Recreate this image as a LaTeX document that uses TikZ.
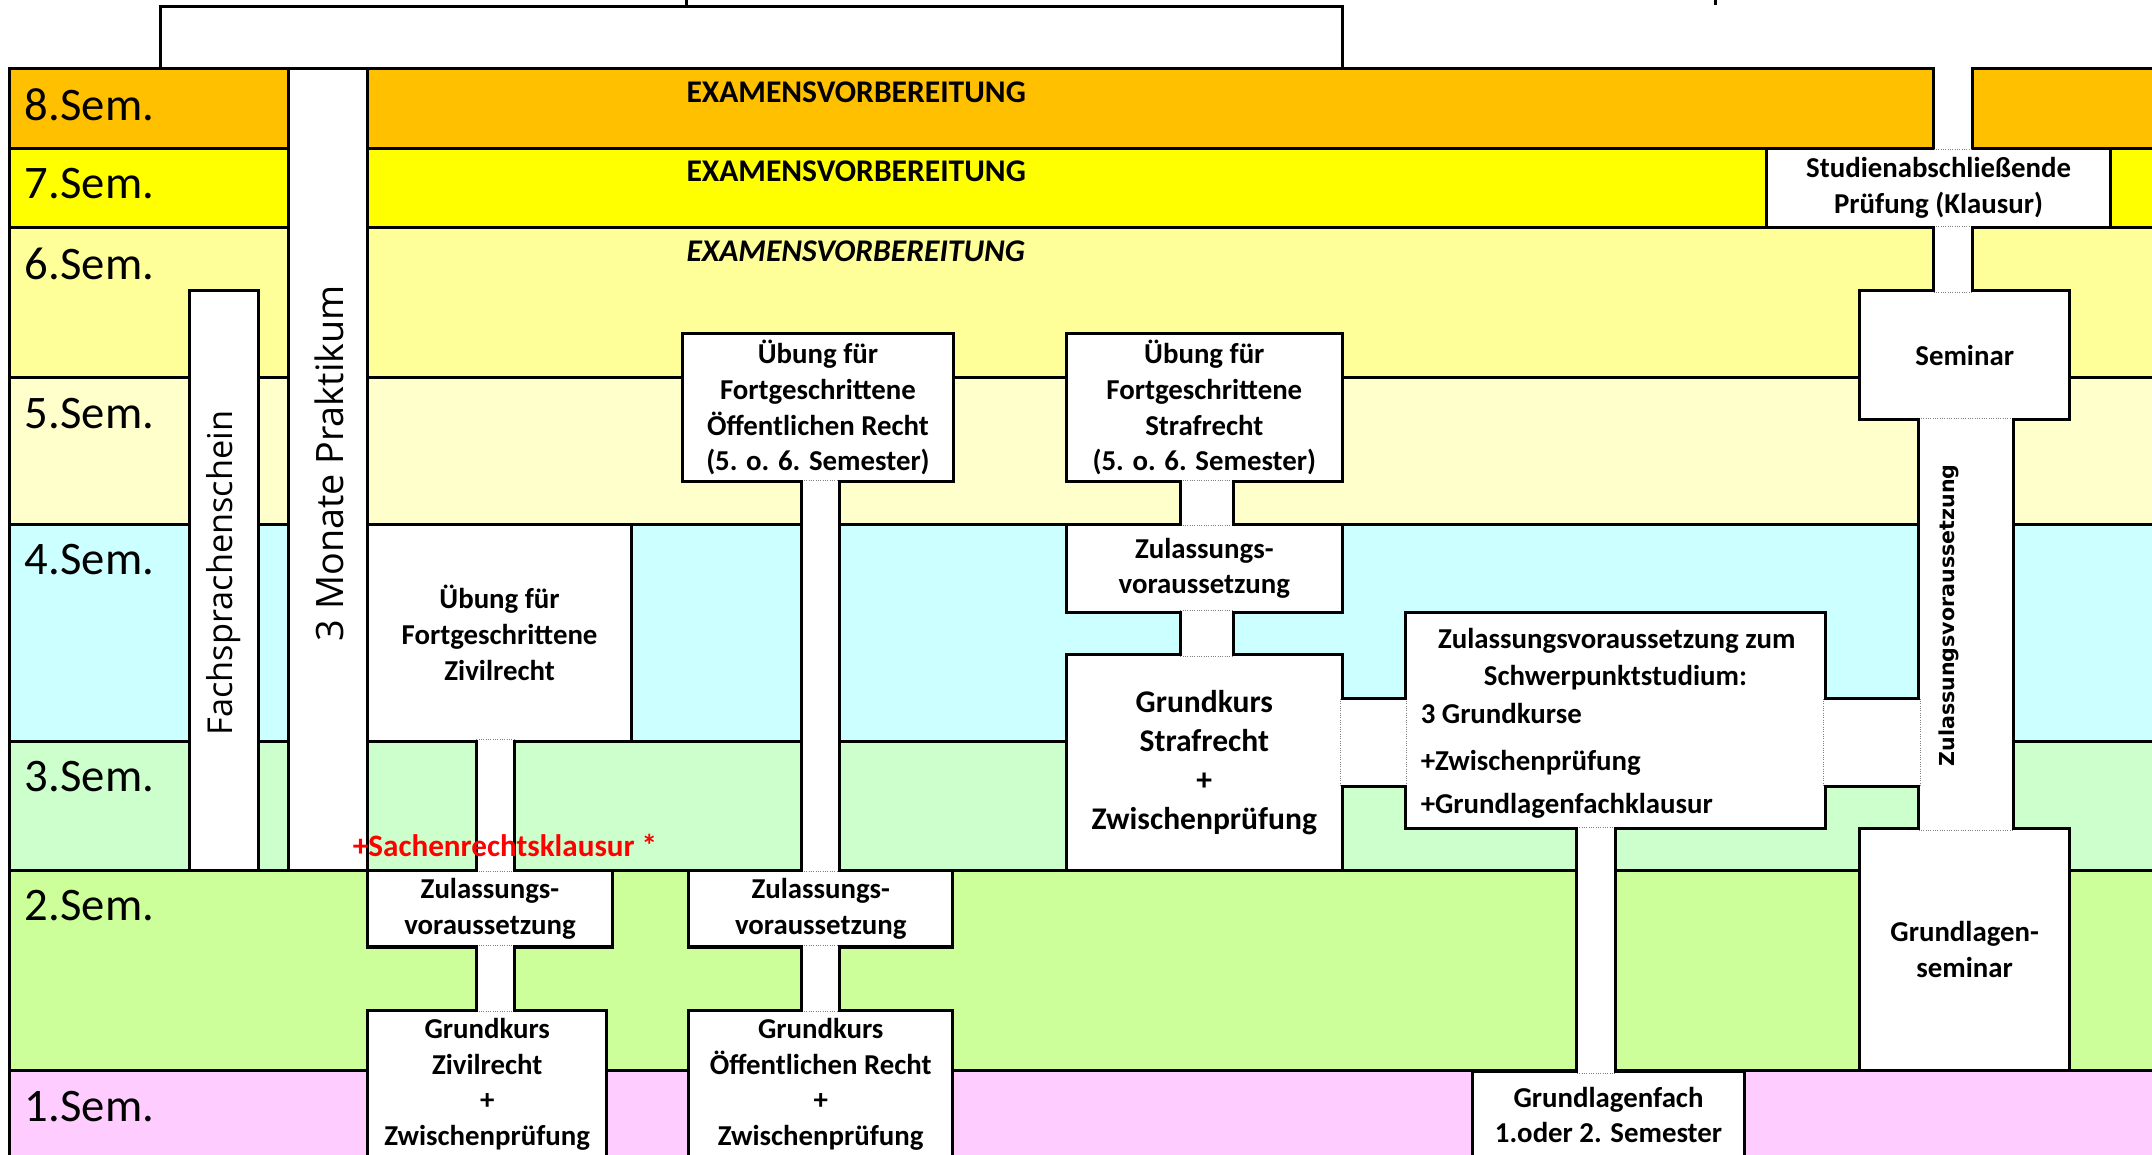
\documentclass[tikz,border=0pt]{standalone}
\usepackage{fontspec}
\setmainfont{Carlito}
\newfontfamily\schmal{Open Sans}
\newfontfamily\breit{DejaVu Sans}
\usetikzlibrary{calc}

\definecolor{semacht}{HTML}{FFC000}
\definecolor{semsieben}{HTML}{FFFF00}
\definecolor{semsechs}{HTML}{FFFF99}
\definecolor{semfuenf}{HTML}{FFFFCC}
\definecolor{semvier}{HTML}{CCFFFF}
\definecolor{semdrei}{HTML}{CCFFCC}
\definecolor{semzwei}{HTML}{CCFF99}
\definecolor{semeins}{HTML}{FFCCFF}

\tikzset{
  semzeile/.style={draw=black,line width=2.2pt},
  kasten/.style={draw=black,fill=white,line width=2.2pt,inner sep=0pt,outer sep=-1.1pt,
    align=center,font=\bfseries\fontsize{21}{26}\selectfont},
  kastentext/.style={inner sep=0pt,font=\bfseries\fontsize{21}{26}\selectfont},
  seite/.style={line width=2.2pt},
  fuge/.style={gray,densely dotted,line width=0.7pt},
  semtext/.style={anchor=west,inner sep=0pt,font=\fontsize{34}{40}\selectfont},
  examen/.style={anchor=west,inner sep=0pt,font=\bfseries\fontsize{23}{26}\selectfont},
  hochtext/.style={rotate=90,inner sep=0pt,font=\schmal\fontsize{27.5}{30}\selectfont}
}

% senkrechte Verbindung: x, halbe Breite, oben, unten
\newcommand{\senkrecht}[4]{%
  \fill[white] (#1-#2,0 |- #3) rectangle (#1+#2,0 |- #4);
  \draw[fuge] (#1-#2,0 |- #3) -- (#1+#2,0 |- #3) (#1-#2,0 |- #4) -- (#1+#2,0 |- #4);
  \draw[seite] (#1-#2,0 |- #3) -- (#1-#2,0 |- #4) (#1+#2,0 |- #3) -- (#1+#2,0 |- #4);}
% waagrechte Verbindung: y, halbe Hoehe, links, rechts
\newcommand{\waagrecht}[4]{%
  \fill[white] (#3 |- 0,#1-#2) rectangle (#4 |- 0,#1+#2);
  \draw[fuge] (#3 |- 0,#1-#2) -- (#3 |- 0,#1+#2) (#4 |- 0,#1-#2) -- (#4 |- 0,#1+#2);
  \draw[seite] (#3 |- 0,#1-#2) -- (#4 |- 0,#1-#2) (#3 |- 0,#1+#2) -- (#4 |- 0,#1+#2);}

\begin{document}
\begin{tikzpicture}[x=1pt,y=-1pt]
    \useasboundingbox (0,0) rectangle (1568,841);
    \clip (0,0) rectangle (1568,841);
    % Klammer oben
    \draw[seite] (117,50) |- (978,4.8) -- (978,50);
    \draw[seite] (500,4.8) -- (500,-5);
    \draw[seite] (1250,4) -- (1250,-5);
    % Semesterzeilen
    \foreach \oben/\unten/\farbe/\nr in {50/108/semacht/8,108/166/semsieben/7,166/275/semsechs/6,
        275/382/semfuenf/5,382/540/semvier/4,540/634/semdrei/3,634/780/semzwei/2,780/860/semeins/1}
    {
        \draw[semzeile,fill=\farbe] (7,\oben) rectangle (1620,\unten);
        \node[semtext] (sem\nr) at (18,\oben+26) {\nr.Sem.};
    }
    % Spalten links
    \node[kasten,minimum width=58pt,minimum height=584pt] (praktikum) at (239,342) {};
    \node[kasten,minimum width=50pt,minimum height=422pt] (fachsprache) at (163,423) {};
    % Kaesten
    \node[kasten,minimum width=192pt,minimum height=158pt] (uebZR) at (364,461) {Übung für\\Fortgeschrittene\\Zivilrecht};
    \node[kasten,minimum width=178pt,minimum height=56pt] (zulZR) at (357,662) {Zulassungs-\\voraussetzung};
    \node[kasten,minimum width=174pt,minimum height=108pt] (gkZR) at (355,790) {Grundkurs\\Zivilrecht\\+\\Zwischenprüfung};
    \node[kasten,minimum width=198pt,minimum height=108pt] (uebOR) at (596,297) {Übung für\\Fortgeschrittene\\Öffentlichen Recht\\(5. o. 6. Semester)};
    \node[kasten,minimum width=192pt,minimum height=56pt] (zulOR) at (598,662) {Zulassungs-\\voraussetzung};
    \node[kasten,minimum width=192pt,minimum height=108pt] (gkOR) at (598,790) {Grundkurs\\Öffentlichen Recht\\+\\Zwischenprüfung};
    \node[kasten,minimum width=201pt,minimum height=108pt] (uebSR) at (877.5,297) {Übung für\\Fortgeschrittene\\Strafrecht\\(5. o. 6. Semester)};
    \node[kasten,minimum width=201pt,minimum height=64pt] (zulSR) at (877.5,414) {Zulassungs-\\voraussetzung};
    \node[kasten,minimum width=201pt,minimum height=157pt,font=\bfseries\fontsize{23}{28.5}\selectfont] (gkSR) at (877.5,555.5) {Grundkurs\\Strafrecht\\+\\Zwischenprüfung};
    \node[kasten,minimum width=306pt,minimum height=158pt] (schwer) at (1177,525) {};
    \node[kasten,minimum width=198pt,minimum height=63pt] (glfach) at (1172,812.5) {Grundlagenfach\\1.oder 2. Semester};
    \node[kasten,minimum width=251pt,minimum height=58pt] (studab) at (1412.5,137) {Studienabschließende\\Prüfung (Klausur)};
    \node[kasten,minimum width=153pt,minimum height=94pt] (seminar) at (1431.5,259) {Seminar};
    \node[kasten,minimum width=153pt,minimum height=176pt] (glsem) at (1431.5,692) {Grundlagen-\\seminar};
    % Verbindungen
    \senkrecht{361}{14}{uebZR.south}{zulZR.north}
    \senkrecht{361}{14}{zulZR.south}{gkZR.north}
    \senkrecht{598}{14}{uebOR.south}{zulOR.north}
    \senkrecht{598}{14}{zulOR.south}{gkOR.north}
    \senkrecht{879.5}{19.5}{uebSR.south}{zulSR.north}
    \senkrecht{879.5}{19.5}{zulSR.south}{gkSR.north}
    \senkrecht{1163}{14}{schwer.south}{glfach.north}
    \senkrecht{1423}{14}{studab.south}{seminar.north}
    \senkrecht{1432.5}{34.5}{seminar.south}{glsem.north}
    \coordinate (zulbarW) at (1399.1,541);
    \waagrecht{541}{32}{gkSR.east}{schwer.west}
    \waagrecht{541}{32}{schwer.east}{zulbarW}
    % Streifen nach oben
    \coordinate (oben) at (1423,48.9);
    \fill[white] (1409,0 |- oben) rectangle (1437,0 |- studab.north);
    \draw[seite] (1409,0 |- oben) -- (1409,0 |- studab.north) (1437,0 |- oben) -- (1437,0 |- studab.north);
    \draw[fuge] (1409,0 |- studab.north) -- (1437,0 |- studab.north);
    % Texte
    \node[examen] (ex8) at (500,67) {EXAMENSVORBEREITUNG};
    \node[examen] (ex7) at (500,125) {EXAMENSVORBEREITUNG};
    \node[examen,font=\bfseries\itshape\fontsize{23}{26}\selectfont] (ex6) at (500,183) {EXAMENSVORBEREITUNG};
    \node[hochtext] (prakttext) at (240,337.5) {3 Monate Praktikum};
    \node[hochtext,font=\schmal\fontsize{25}{30}\selectfont] (fachtext) at (163,417.5) {Fachsprachenschein};
    \node[hochtext,font=\breit\bfseries\fontsize{15}{18}\selectfont] (zultext) at (1420,448.5) {Zulassungsvoraussetzung};
    \node[inner sep=0pt,text=red,font=\bfseries\fontsize{22.7}{26}\selectfont] (sachen) at (368,616) {+Sachenrechtsklausur *};
    \node[kastentext] (sp1) at (1178,467) {Zulassungsvoraussetzung zum};
    \node[kastentext] (sp2) at (1177,494) {Schwerpunktstudium:};
    \node[kastentext,anchor=west] (sp3) at (1035,520) {3 Grundkurse};
    \node[kastentext,anchor=west] (sp4) at (1035,556) {+Zwischenprüfung};
    \node[kastentext,anchor=west] (sp5) at (1035,587) {+Grundlagenfachklausur};
\end{tikzpicture}
\end{document}
